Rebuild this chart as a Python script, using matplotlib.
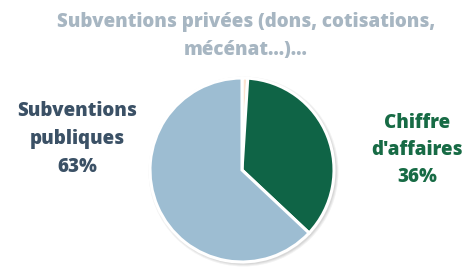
import matplotlib.pyplot as plt
from matplotlib.patches import Circle

labels = ["Subventions privées (dons, cotisations,\nmécénat...)...",
          "Chiffre\nd'affaires\n36%",
          "Subventions\npubliques\n63%"]
values = [1, 36, 63]
colors = ["#FBE3D0", "#0F6446", "#9DBDD2"]
label_colors = ["#A7B6C2", "#176B45", "#3B5166"]

W, H = 475, 268
fig = plt.figure(figsize=(W / 100, H / 100), dpi=100)
ax = fig.add_axes([0, 0, 1, 1])

cx, cy, r = 242, H - 170, 92

# soft shadow behind the pie
for i, a in enumerate([0.05, 0.05, 0.06]):
    ax.add_patch(Circle((cx + 1.5, cy - 1.5), r + 3 - i, color='black', alpha=a, lw=0))

ax.pie(values, colors=colors, startangle=90, counterclock=False,
       center=(cx, cy), radius=r, frame=True,
       wedgeprops=dict(edgecolor='white', linewidth=2.2))
ax.set_xlim(0, W)
ax.set_ylim(0, H)
ax.axis('off')

font = dict(family='Open Sans', weight='heavy', fontsize=13.5, ha='center', va='center',
            linespacing=1.5)
ax.text(246, H - 36, labels[0], color=label_colors[0], **font)
ax.text(417, H - 150, labels[1], color=label_colors[1], **font)
ax.text(77, H - 139, labels[2], color=label_colors[2], **font)

fig.savefig('out.png', dpi=100, facecolor='white')
